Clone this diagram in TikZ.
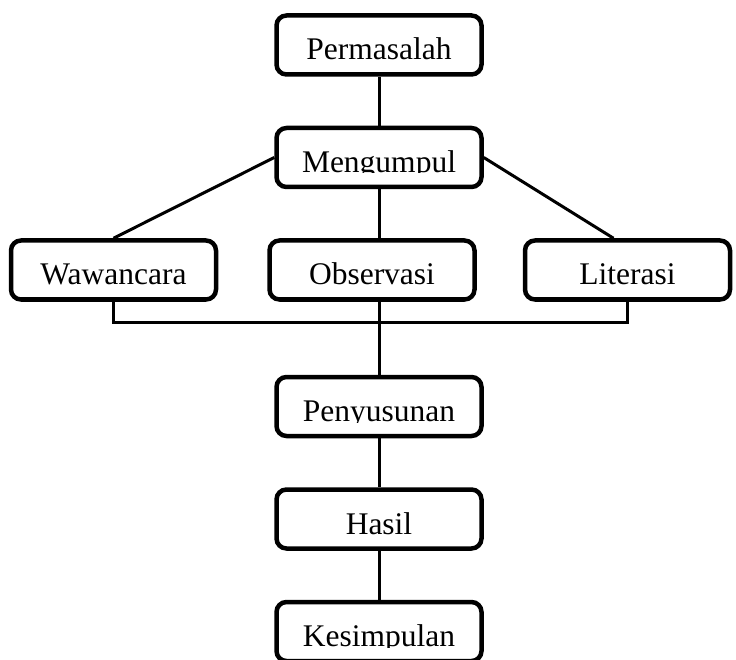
\documentclass[tikz,border=0pt]{standalone}
\usepackage{fontspec}
\setmainfont{Liberation Serif}
\usetikzlibrary{positioning}
\begin{document}
\begin{tikzpicture}[
    kotak/.style={draw,line width=4.5pt,rounded corners=10pt,minimum width=205pt,
      minimum height=59pt,text height=30pt,text depth=0pt,
      font=\fontsize{31.5}{32}\selectfont},
    teks/.style={kotak,draw=none},
    garis/.style={line width=3pt},
    node distance=49pt]
  \useasboundingbox (0,0) rectangle (736pt,-660pt);
  \node[kotak] (perm) at (379pt,-45pt) {Permasalah};
  \node[kotak,below=of perm] (meng) {};
  \node[kotak,below=of meng,xshift=-7pt] (obs) {Observasi};
  \node[kotak,left=49pt of obs] (waw) {Wawancara};
  \node[kotak,right=46pt of obs] (lit) {Literasi};
  \node[kotak,below=73pt of obs,xshift=7pt] (pen) {};
  \node[kotak,below=of pen] (hasil) {Hasil};
  \node[kotak,below=of hasil] (kes) {};
  \foreach \k/\t in {meng/Mengumpul,pen/Penyusunan,kes/Kesimpulan}{
    \begin{scope}
      \clip (\k.north west) rectangle ([yshift=-15.5pt]\k.east);
      \node[teks] (\k-t) at (\k) {\t};
    \end{scope}
  }
  \coordinate[below=21pt of obs.south] (bus);
  \draw[garis] (perm.south) -- (meng.north);
  \draw[garis] (meng.west) -- (waw.north);
  \draw[garis] (meng.east) -- ([xshift=-14pt]lit.north);
  \draw[garis] (meng.south) -- (meng.south |- obs.north);
  \draw[garis] (waw.south) |- (bus -| lit.south) -- (lit.south);
  \draw[garis] (obs.south -| pen.north) -- (pen.north);
  \draw[garis] (pen.south) -- (hasil.north);
  \draw[garis] (hasil.south) -- (kes.north);
\end{tikzpicture}
\end{document}
